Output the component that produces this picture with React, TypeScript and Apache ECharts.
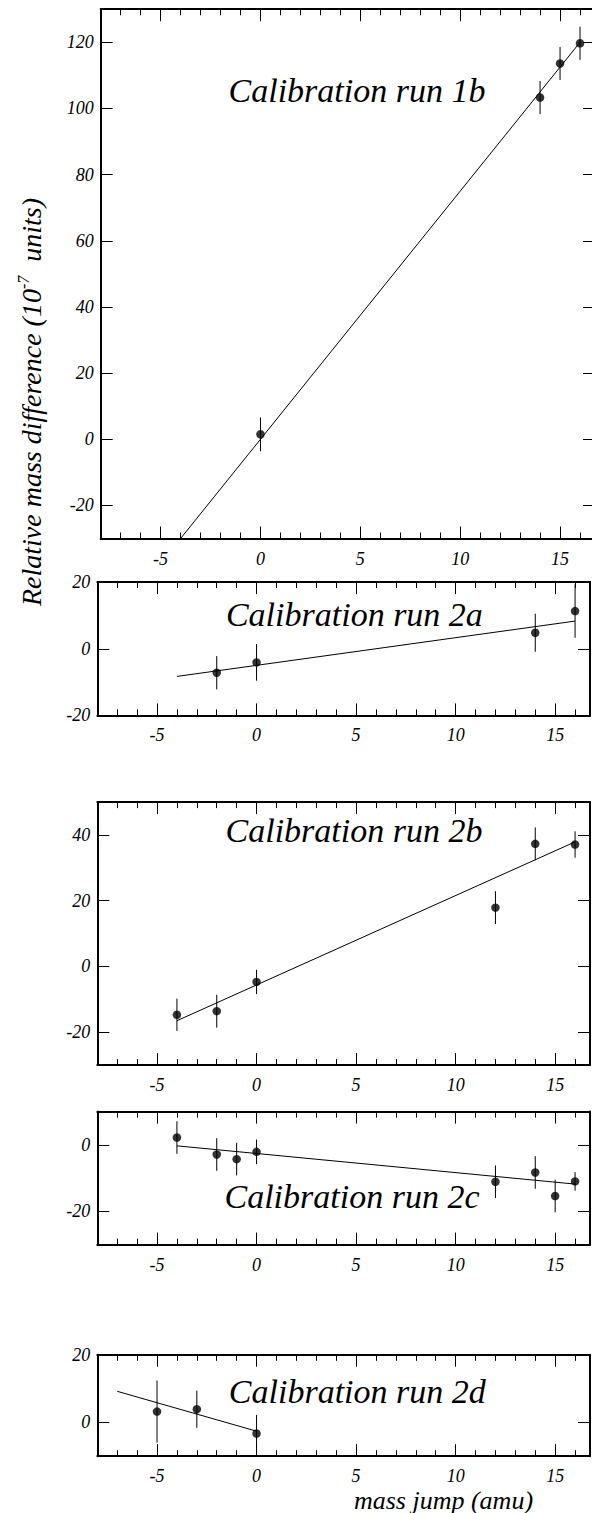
import React, { useEffect, useRef } from "react";
import * as echarts from "echarts";

// ---------- data ----------
const xMajorTicks = [-5, 0, 5, 10, 15];
const xMinorTicks = [-7, -6, -5, -4, -3, -2, -1, 0, 1, 2, 3, 4, 5, 6, 7, 8, 9, 10, 11, 12, 13, 14, 15, 16];

const panelTitles = [
  "Calibration run 1b",
  "Calibration run 2a",
  "Calibration run 2b",
  "Calibration run 2c",
  "Calibration run 2d",
];

const yRanges = [
  [-30, 130],
  [-20, 20],
  [-30, 50],
  [-30, 10],
  [-10, 20],
];

const yTickLabels = [
  [-20, 0, 20, 40, 60, 80, 100, 120],
  [-20, 0, 20],
  [-20, 0, 20, 40],
  [-20, 0],
  [0, 20],
];

// Calibration run 1b
const run1bX = [0, 14, 15, 16];
const run1bY = [1.5, 103.3, 113.6, 119.7];
const run1bErr = [5.1, 5, 5, 5];
const run1bFit = [[-4, -30], [16, 120]];

// Calibration run 2a
const run2aX = [-2, 0, 14, 16];
const run2aY = [-7.2, -4.1, 4.8, 11.3];
const run2aErr = [5, 5.5, 5.7, 8];
const run2aFit = [[-4, -8.3], [16, 8.3]];

// Calibration run 2b
const run2bX = [-4, -2, 0, 12, 14, 16];
const run2bY = [-14.7, -13.6, -4.7, 17.9, 37.3, 37.1];
const run2bErr = [4.9, 5, 3.7, 5, 5, 4];
const run2bFit = [[-4, -16.5], [16, 37.9]];

// Calibration run 2c
const run2cX = [-4, -2, -1, 0, 12, 14, 15, 16];
const run2cY = [2.2, -2.9, -4.3, -2.1, -11.1, -8.3, -15.4, -11];
const run2cErr = [4.9, 4.9, 4.9, 3.7, 4.9, 4.9, 4.9, 2.8];
const run2cFit = [[-4, -0.3], [16, -11.8]];

// Calibration run 2d
const run2dX = [-5, -3, 0];
const run2dY = [3.2, 3.9, -3.3];
const run2dErr = [9.2, 5.5, 5.5];
const run2dFit = [[-7, 9.2], [0, -2.6]];

const runs = [
  { x: run1bX, y: run1bY, err: run1bErr, fit: run1bFit },
  { x: run2aX, y: run2aY, err: run2aErr, fit: run2aFit },
  { x: run2bX, y: run2bY, err: run2bErr, fit: run2bFit },
  { x: run2cX, y: run2cY, err: run2cErr, fit: run2cFit },
  { x: run2dX, y: run2dY, err: run2dErr, fit: run2dFit },
];

const xRange = [-8, 16.75];

// ---------- layout ----------
const layouts = [
  { left: 100.7, top: 9.2, width: 494.3, height: 529.3, titleX: 357, titleY: 90.5 },
  { left: 97.3, top: 582.1, width: 492.7, height: 133.3, titleX: 354.4, titleY: 614.7 },
  { left: 97.3, top: 802.1, width: 492.7, height: 263, titleX: 354, titleY: 830.6 },
  { left: 97.3, top: 1111.6, width: 492.7, height: 133, titleX: 352, titleY: 1196 },
  { left: 97.3, top: 1354.8, width: 492.7, height: 101.4, titleX: 357.3, titleY: 1391.5 },
];

const FONT = "Liberation Serif";
const BLACK = "#000";

function buildOption() {
  const grid: any[] = [];
  const xAxis: any[] = [];
  const yAxis: any[] = [];
  const series: any[] = [];
  const graphic: any[] = [];

  layouts.forEach((L, i) => {
    grid.push({
      left: L.left,
      top: L.top,
      width: L.width,
      height: L.height,
      containLabel: false,
      outerBoundsMode: "none",
    });
    const baseX = {
      type: "value",
      gridIndex: i,
      min: xRange[0],
      max: xRange[1],
      splitLine: { show: false },
    };
    // bottom major
    xAxis.push({
      ...baseX,
      position: "bottom",
      axisLine: { show: true, onZero: false, lineStyle: { color: BLACK, width: 2 } },
      axisTick: { show: true, inside: true, length: 12, customValues: xMajorTicks, lineStyle: { color: BLACK, width: 1 } },
      axisLabel: {
        show: true,
        customValues: xMajorTicks,
        margin: 11,
        color: BLACK,
        fontFamily: FONT,
        fontStyle: "italic",
        fontSize: 18,
      },
    });
    // bottom minor
    xAxis.push({
      ...baseX,
      position: "bottom",
      axisLine: { show: false, onZero: false },
      axisTick: { show: true, inside: true, length: 6, customValues: xMinorTicks, lineStyle: { color: BLACK, width: 1 } },
      axisLabel: { show: false },
    });
    // top major
    xAxis.push({
      ...baseX,
      position: "top",
      axisLine: { show: true, onZero: false, lineStyle: { color: BLACK, width: 2 } },
      axisTick: { show: true, inside: true, length: 12, customValues: xMajorTicks, lineStyle: { color: BLACK, width: 1 } },
      axisLabel: { show: false },
    });
    // top minor
    xAxis.push({
      ...baseX,
      position: "top",
      axisLine: { show: false, onZero: false },
      axisTick: { show: true, inside: true, length: 6, customValues: xMinorTicks, lineStyle: { color: BLACK, width: 1 } },
      axisLabel: { show: false },
    });

    const baseY = {
      type: "value",
      gridIndex: i,
      min: yRanges[i][0],
      max: yRanges[i][1],
      splitLine: { show: false },
    };
    yAxis.push({
      ...baseY,
      position: "left",
      axisLine: { show: true, onZero: false, lineStyle: { color: BLACK, width: 2 } },
      axisTick: { show: true, inside: true, length: 12, customValues: yTickLabels[i], lineStyle: { color: BLACK, width: 1 } },
      axisLabel: {
        show: true,
        customValues: yTickLabels[i],
        margin: 7,
        color: BLACK,
        fontFamily: FONT,
        fontStyle: "italic",
        fontSize: 18,
      },
    });
    yAxis.push({
      ...baseY,
      position: "right",
      axisLine: { show: true, onZero: false, lineStyle: { color: BLACK, width: 2 } },
      axisTick: { show: true, inside: true, length: 12, customValues: yTickLabels[i], lineStyle: { color: BLACK, width: 1 } },
      axisLabel: { show: false },
    });

    const run = runs[i];
    const rows = run.x.map((x, k) => [x, run.y[k], run.err[k]]);

    series.push({
      type: "line",
      xAxisIndex: 4 * i,
      yAxisIndex: 2 * i,
      data: run.fit,
      showSymbol: false,
      symbol: "none",
      lineStyle: { color: BLACK, width: 1 },
      z: 2,
      silent: true,
    });
    series.push({
      type: "custom",
      xAxisIndex: 4 * i,
      yAxisIndex: 2 * i,
      data: rows,
      encode: { x: 0, y: 1 },
      z: 3,
      silent: true,
      renderItem: (params: any, api: any) => {
        const x = api.value(0);
        const y = api.value(1);
        const e = api.value(2);
        const p1 = api.coord([x, y - e]);
        const p2 = api.coord([x, y + e]);
        return {
          type: "line",
          shape: { x1: p1[0], y1: p1[1], x2: p2[0], y2: p2[1] },
          style: { stroke: BLACK, lineWidth: 1 },
        };
      },
    });
    series.push({
      type: "scatter",
      xAxisIndex: 4 * i,
      yAxisIndex: 2 * i,
      data: rows.map((r) => [r[0], r[1]]),
      symbol: "circle",
      symbolSize: 8.5,
      itemStyle: { color: BLACK },
      z: 4,
      silent: true,
    });

    graphic.push({
      type: "text",
      x: L.titleX,
      y: L.titleY,
      style: {
        text: panelTitles[i],
        fill: BLACK,
        fontFamily: FONT,
        fontStyle: "italic",
        fontSize: 34,
        align: "center",
        verticalAlign: "middle",
      },
    });
  });

  graphic.push({
    type: "text",
    x: 31,
    y: 402,
    rotation: Math.PI / 2,
    style: {
      text: "{a|Relative mass difference (10}{b|-7}{a|  units)}",
      align: "center",
      verticalAlign: "middle",
      fill: BLACK,
      rich: {
        a: { fontFamily: FONT, fontStyle: "italic", fontSize: 28, lineHeight: 32, fill: BLACK, color: BLACK },
        b: { fontFamily: FONT, fontStyle: "italic", fontSize: 16, lineHeight: 16, verticalAlign: "top", fill: BLACK, color: BLACK },
      },
    },
  });

  graphic.push({
    type: "text",
    x: 443.5,
    y: 1500,
    style: {
      text: "mass jump (amu)",
      fill: BLACK,
      fontFamily: FONT,
      fontStyle: "italic",
      fontSize: 26,
      align: "center",
      verticalAlign: "middle",
    },
  });

  return {
    animation: false,
    backgroundColor: "#fff",
    grid,
    xAxis,
    yAxis,
    series,
    graphic,
  };
}

export default function App() {
  const ref = useRef<HTMLDivElement>(null);
  useEffect(() => {
    if (!ref.current) return;
    const chart = echarts.init(ref.current, undefined, { renderer: "svg" });
    chart.setOption(buildOption() as any);
    return () => {
      chart.dispose();
    };
  }, []);
  return (
    <div
      ref={ref}
      style={{ position: "absolute", left: 0, top: 0, width: 592, height: 1513, background: "#fff" }}
    />
  );
}
